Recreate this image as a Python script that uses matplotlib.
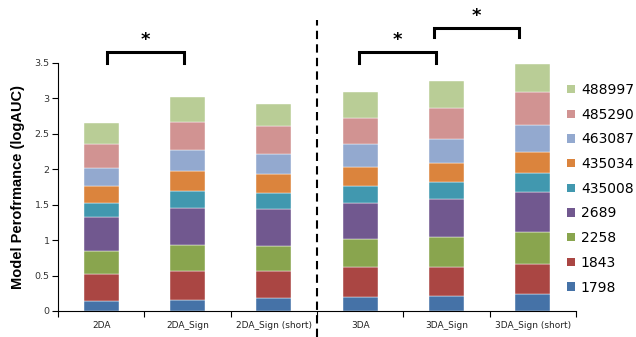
import matplotlib
matplotlib.use("Agg")
import matplotlib.pyplot as plt
from matplotlib.lines import Line2D
from matplotlib.patches import Patch
import numpy as np

categories = ["2DA", "2DA_Sign", "2DA_Sign (short)", "3DA", "3DA_Sign", "3DA_Sign (short)"]
series_names = ["1798", "1843", "2258", "2689", "435008", "435034", "463087", "485290", "488997"]
colors = ["#4572A7", "#AA4643", "#89A54E", "#71588F", "#4198AF",
          "#DB843D", "#93A9CF", "#D19392", "#B9CD96"]

# cumulative tops, one row per bar
tops = [
    [0.14, 0.52, 0.85, 1.32, 1.52, 1.77, 2.02, 2.36, 2.65],
    [0.16, 0.56, 0.93, 1.45, 1.69, 1.97, 2.27, 2.67, 3.02],
    [0.18, 0.56, 0.92, 1.44, 1.67, 1.93, 2.21, 2.61, 2.92],
    [0.20, 0.62, 1.01, 1.53, 1.77, 2.03, 2.36, 2.73, 3.09],
    [0.21, 0.62, 1.04, 1.58, 1.82, 2.09, 2.43, 2.86, 3.24],
    [0.24, 0.67, 1.12, 1.68, 1.95, 2.25, 2.63, 3.09, 3.49],
]
values = np.diff(np.array(tops), axis=1, prepend=0)

# significance brackets: (x start, x end, leg bottom, top)
brackets = [(0.07, 0.96, 3.50, 3.65), (2.99, 3.88, 3.50, 3.65), (3.86, 4.84, 3.87, 3.99)]

fig = plt.figure(figsize=(6.36, 3.37), dpi=100)
ax = fig.add_axes([58/636, 26/337, 518/636, 248/337])

x = np.arange(len(categories))
bottom = np.zeros(len(categories))
handles = []
for j, name in enumerate(series_names):
    ax.bar(x, values[:, j], 0.405, bottom=bottom, color=colors[j], label=name,
           edgecolor="white", linewidth=0.3)
    bottom += values[:, j]
    handles.append(Patch(facecolor=colors[j], label=name))

ax.set_xlim(-0.5, 5.5)
ax.set_ylim(0, 3.5)
ax.set_yticks(np.arange(0, 3.51, 0.5))
ax.set_yticklabels(["0", "0.5", "1", "1.5", "2", "2.5", "3", "3.5"], fontsize=6.8, color="#333333")
ax.set_xticks(x)
ax.set_xticklabels(categories, fontsize=6.5, color="#222222")
ax.tick_params(axis="x", which="major", length=0, pad=7)
ax.set_xticks(np.arange(-0.5, 5.6, 1), minor=True)
ax.tick_params(axis="x", which="minor", length=4, direction="out", width=0.8)
ax.tick_params(axis="y", length=4, width=0.8, pad=2)
for s in ["top", "right"]:
    ax.spines[s].set_visible(False)
ax.spines["left"].set_linewidth(0.8)
ax.spines["bottom"].set_linewidth(0.8)
ax.set_ylabel("Model Perofrmance (logAUC)", fontsize=10.5, fontweight="bold",
              family="Liberation Sans", labelpad=7)

for x0, x1, yb, yt in brackets:
    ax.plot([x0, x0, x1, x1], [yb, yt, yt, yb], color="black", lw=2.2,
            clip_on=False, solid_joinstyle="miter")
    ax.text((x0 + x1) / 2, yt + 0.05, "*", ha="center", va="bottom",
            fontsize=13, fontweight="bold")

# dashed divider between 2D and 3D groups
fig.add_artist(Line2D([317/636, 317/636], [0, 1 - 20/337], color="black",
                      lw=1.5, ls=(0, (4, 2.5))))

fig.legend(handles=handles[::-1], loc="upper left", bbox_to_anchor=(567/636, 1 - 83/337),
           frameon=False, fontsize=10, handlelength=0.55, handleheight=0.55,
           handletextpad=0.45, labelspacing=0.77, borderaxespad=0, borderpad=0)

fig.savefig("out.png", dpi=100)
